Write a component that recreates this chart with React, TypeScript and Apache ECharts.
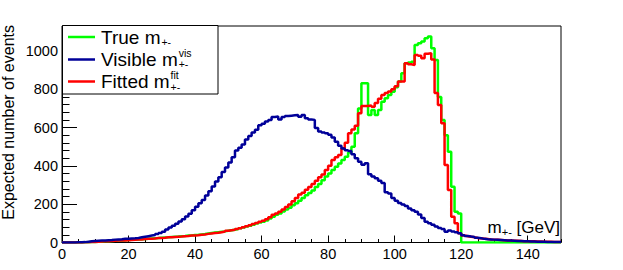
import React, { useEffect, useRef } from "react";
import * as echarts from "echarts";

// ---- data (1 GeV bins from 0 to 150 GeV) ----
const BIN_WIDTH = 1;
const X_MIN = 0;
const X_MAX = 150;
const Y_MAX = 1130;

const trueM = [
  0, 0, 0, 0, 0, 0, 1, 1, 2, 3,
  4, 5, 6, 7, 8, 9, 10, 11, 12, 13,
  14, 15, 16, 17, 18, 20, 21, 22, 23, 25,
  26, 27, 29, 30, 31, 33, 34, 36, 37, 39,
  40, 42, 44, 47, 50, 52, 54, 56, 58, 61,
  64, 67, 70, 74, 78, 83, 88, 93, 99, 104,
  108, 115, 125, 135, 145, 152, 162, 172, 182, 194,
  205, 218, 232, 246, 258, 272, 290, 305, 325, 344,
  360, 378, 395, 412, 430, 448, 470, 500, 570, 700,
  831, 831, 666, 692, 666, 692, 735, 753, 770, 787,
  810, 840, 883, 935, 940, 944, 1031, 1040, 1049, 1066,
  1075, 1014, 953, 760, 640, 560, 474, 291, 161, 152,
  0, 0, 0, 0, 0, 0, 0, 0, 0, 0,
  0, 0, 0, 0, 0, 0, 0, 0, 0, 0,
  0, 0, 0, 0, 0, 0, 0, 0, 0, 0,
];

const visibleM = [
  0, 0, 0, 0, 1, 1, 2, 4, 6, 8,
  9, 10, 11, 12, 13, 15, 16, 17, 19, 20,
  21, 22, 24, 27, 30, 33, 36, 39, 44, 50,
  56, 68, 78, 88, 98, 110, 122, 136, 150, 168,
  186, 205, 222, 245, 268, 292, 318, 340, 368, 392,
  418, 445, 480, 495, 512, 538, 556, 574, 588, 612,
  620, 632, 640, 655, 658, 642, 655, 660, 662, 664,
  666, 656, 665, 648, 642, 640, 598, 580, 574, 570,
  562, 548, 526, 505, 490, 482, 478, 460, 440, 422,
  406, 414, 356, 345, 335, 322, 310, 262, 256, 232,
  218, 206, 198, 190, 178, 168, 160, 146, 128, 108,
  100, 92, 84, 76, 70, 56, 62, 58, 54, 48,
  38, 34, 31, 29, 25, 22, 19, 17, 16, 15,
  14, 13, 12, 11, 10, 9, 8, 8, 7, 6,
  5, 5, 4, 4, 4, 3, 3, 3, 3, 3,
];

const fittedM = [
  0, 0, 0, 0, 0, 0, 1, 1, 2, 3,
  4, 5, 6, 7, 8, 9, 10, 10, 11, 12,
  13, 14, 15, 16, 18, 19, 20, 21, 23, 24,
  25, 27, 28, 29, 30, 31, 33, 34, 36, 37,
  38, 40, 42, 45, 47, 49, 51, 54, 57, 61,
  64, 67, 71, 75, 80, 85, 90, 96, 102, 108,
  114, 122, 132, 145, 152, 160, 172, 185, 198, 215,
  232, 250, 260, 275, 290, 305, 322, 340, 355, 379,
  400, 431, 445, 457, 492, 520, 570, 590, 610, 675,
  712, 712, 715, 708, 728, 750, 770, 780, 788, 800,
  815, 840, 840, 935, 930, 927, 979, 975, 962, 985,
  988, 955, 780, 718, 622, 405, 274, 135, 100, 48,
  36, 33, 30, 27, 24, 22, 20, 18, 16, 15,
  14, 13, 12, 11, 10, 9, 9, 8, 7, 7,
  6, 6, 5, 5, 4, 4, 4, 3, 3, 3,
];

const legendLabels = ["True m", "Visible m", "Fitted m"];
const legendSups = ["", "vis", "fit"];
const legendSubs = ["+-", "+-", "+-"];
const yTitle = "Expected number of events";

const FONT = '"Liberation Sans", Arial, Helvetica, sans-serif';
const GREEN = "#00ff00";
const BLUE = "#000099";
const RED = "#ff0000";

function toSteps(vals: number[]): number[][] {
  const pts = vals.map((v, i) => [X_MIN + i * BIN_WIDTH, v]);
  pts.push([X_MIN + vals.length * BIN_WIDTH, vals[vals.length - 1]]);
  return pts;
}

function measure(text: string, size: number): number {
  const c = document.createElement("canvas").getContext("2d");
  if (!c) return text.length * size * 0.5;
  c.font = `${size}px "Liberation Sans"`;
  return c.measureText(text).width;
}

function txt(x: number, y: number, text: string, size: number, align = "left", extra: any = {}) {
  return {
    type: "text",
    x,
    y,
    z: 20,
    silent: true,
    ...extra,
    style: {
      text,
      fill: "#000",
      fontSize: size,
      fontFamily: FONT,
      align,
      verticalAlign: "middle",
      textAlign: align,
      textVerticalAlign: "middle",
    },
  };
}

export default function App() {
  const ref = useRef<HTMLDivElement>(null);

  useEffect(() => {
    if (!ref.current) return;
    const chart = echarts.init(ref.current, undefined, { renderer: "svg" });

    const gridPos = { left: 62, right: 62, top: 26, bottom: 27.5 };
    const colors = [GREEN, BLUE, RED];

    // legend graphic
    const LF = 19;
    const SF = 10.5;
    const rowY = [37, 59.5, 81.5];
    const subOff = [5, 4, 5.5];
    const supOff = -7;
    const textX = 101;
    const graphics: any[] = [
      {
        type: "rect",
        z: 10,
        silent: true,
        shape: { x: 62.5, y: 25.5, width: 155.5, height: 68.5 },
        style: { fill: "#fff", stroke: "#000", lineWidth: 1 },
      },
    ];
    legendLabels.forEach((lab, i) => {
      const cy = rowY[i];
      graphics.push({
        type: "line",
        z: 20,
        silent: true,
        shape: { x1: 68, y1: cy, x2: 95, y2: cy },
        style: { stroke: colors[i], lineWidth: 2.5 },
      });
      graphics.push(txt(textX, cy, lab, LF));
      const w = measure(lab, LF);
      if (legendSups[i]) graphics.push(txt(textX + w + 1, cy + supOff, legendSups[i], SF));
      graphics.push(txt(textX + w + 1, cy + subOff[i], legendSubs[i], SF));
    });

    // x-axis title: m_{+-} [GeV], right aligned in the plot
    const XF = 17;
    const XS = 11;
    const gevW = measure(" [GeV]", XF);
    const subW = measure("+-", XS);
    const right = 560;
    graphics.push(txt(right, 227, " [GeV]", XF, "right"));
    graphics.push(txt(right - gevW, 231.5, "+-", XS, "right"));
    graphics.push(txt(right - gevW - subW, 227, "m", XF, "right"));

    // y-axis title, rotated
    graphics.push(txt(8.5, 25, yTitle, 16, "right", { rotation: Math.PI / 2 }));

    const axisLabelStyle = {
      color: "#000",
      fontSize: 14.5,
      fontFamily: FONT,
      formatter: (v: number) => String(v),
    };

    chart.setOption({
      animation: false,
      backgroundColor: "#fff",
      grid: [
        { ...gridPos, show: true, borderColor: "#000", borderWidth: 1, backgroundColor: "transparent", containLabel: false },
        { ...gridPos, show: false, containLabel: false },
      ],
      xAxis: [
        {
          type: "value",
          gridIndex: 0,
          position: "bottom",
          min: X_MIN,
          max: X_MAX,
          interval: 20,
          axisLine: { show: true, onZero: false, lineStyle: { color: "#000", width: 1 } },
          axisTick: { show: true, inside: true, length: 7, lineStyle: { color: "#000", width: 1 } },
          axisLabel: { ...axisLabelStyle, margin: 4, showMaxLabel: false },
          splitLine: { show: false },
        },
        {
          type: "value",
          gridIndex: 1,
          position: "bottom",
          min: X_MIN,
          max: X_MAX,
          interval: 5,
          axisLine: { show: false },
          axisTick: { show: true, inside: true, length: 3.5, lineStyle: { color: "#000", width: 1 } },
          axisLabel: { show: false },
          splitLine: { show: false },
        },
      ],
      yAxis: [
        {
          type: "value",
          gridIndex: 0,
          position: "left",
          min: 0,
          max: Y_MAX,
          interval: 200,
          axisLine: { show: true, onZero: false, lineStyle: { color: "#000", width: 1 } },
          axisTick: { show: true, inside: true, length: 15, lineStyle: { color: "#000", width: 1 } },
          axisLabel: { ...axisLabelStyle, margin: 4, showMaxLabel: false },
          splitLine: { show: false },
        },
        {
          type: "value",
          gridIndex: 1,
          position: "left",
          min: 0,
          max: Y_MAX,
          interval: 40,
          axisLine: { show: false },
          axisTick: { show: true, inside: true, length: 7.5, lineStyle: { color: "#000", width: 1 } },
          axisLabel: { show: false },
          splitLine: { show: false },
        },
      ],
      series: [
        {
          name: "True m+-",
          type: "line",
          xAxisIndex: 0,
          yAxisIndex: 0,
          step: "end",
          showSymbol: false,
          symbol: "none",
          silent: true,
          data: toSteps(trueM),
          lineStyle: { color: GREEN, width: 2.5 },
          itemStyle: { color: GREEN },
        },
        {
          name: "Fitted m+-",
          type: "line",
          xAxisIndex: 0,
          yAxisIndex: 0,
          step: "end",
          showSymbol: false,
          symbol: "none",
          silent: true,
          data: toSteps(fittedM),
          lineStyle: { color: RED, width: 2.5 },
          itemStyle: { color: RED },
        },
        {
          name: "Visible m+-",
          type: "line",
          xAxisIndex: 0,
          yAxisIndex: 0,
          step: "end",
          showSymbol: false,
          symbol: "none",
          silent: true,
          data: toSteps(visibleM),
          lineStyle: { color: BLUE, width: 2.5 },
          itemStyle: { color: BLUE },
        },
      ],
      graphic: graphics,
    });

    return () => chart.dispose();
  }, []);

  return (
    <div
      ref={ref}
      style={{ position: "fixed", left: 0, top: 0, width: 623, height: 270, background: "#fff" }}
    />
  );
}
